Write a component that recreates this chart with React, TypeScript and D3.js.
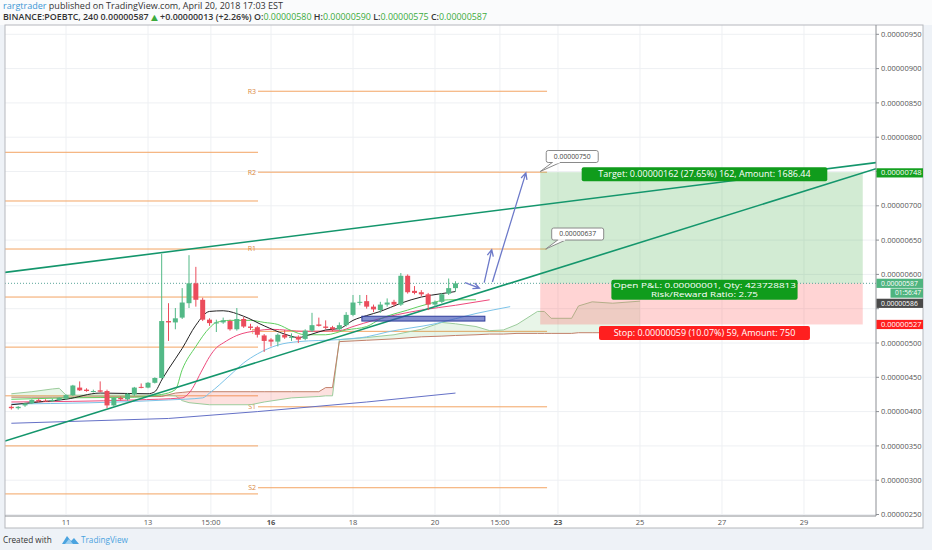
import React from 'react';
import * as d3 from 'd3';

const W = 932;
const H = 550;
const PLOT = { left: 5, right: 876, top: 25, bottom: 516 };
const PANEL_RIGHT = 923;
const PANEL_BOTTOM = 528;
const FONT = "'Open Sans', 'DejaVu Sans', sans-serif";

// 4h candles, bar 0 = Apr 11 00:00, prices in satoshi (1e-8 BTC)
const barIndex = d3.range(-8, 58);
const opens = [407, 405, 409, 412, 417, 416, 415, 417, 419, 424, 435, 432, 430, 431, 430, 409, 420, 418, 425, 436, 435, 442, 449, 532, 530, 537, 558, 587, 563, 534, 529, 530, 532, 520, 535, 524, 523, 511, 505, 502, 512, 508, 509, 506, 518, 527, 524, 523, 520, 526, 541, 559, 561, 553, 548, 556, 560, 556, 598, 576, 574, 571, 556, 560, 572, 580];
const highs = [409, 408, 413, 418, 419, 418, 419, 421, 425, 439, 444, 434, 432, 444, 432, 421, 422, 427, 436, 441, 443, 450, 630, 558, 551, 580, 628, 611, 566, 536, 534, 537, 534, 551, 538, 528, 525, 513, 507, 514, 519, 514, 511, 520, 544, 537, 533, 525, 530, 545, 570, 570, 570, 556, 560, 565, 563, 602, 600, 583, 577, 573, 562, 573, 594, 590];
const lows = [403, 403, 407, 411, 414, 414, 414, 416, 417, 423, 430, 429, 428, 428, 405, 407, 416, 416, 423, 434, 434, 441, 448, 503, 520, 535, 551, 553, 532, 525, 516, 528, 518, 518, 522, 519, 508, 487, 495, 495, 506, 503, 500, 504, 516, 524, 520, 517, 518, 524, 539, 555, 550, 545, 544, 553, 553, 554, 572, 571, 568, 548, 553, 558, 570, 575];
const closes = [405, 407, 412, 417, 416, 415, 417, 420, 424, 438, 431, 430, 430, 429, 409, 420, 418, 426, 435, 435, 442, 449, 532, 530, 536, 559, 587, 563, 534, 529, 530, 533, 520, 535, 524, 522, 512, 503, 502, 512, 508, 509, 505, 518, 526, 525, 522, 520, 526, 541, 559, 560, 553, 549, 556, 559, 556, 598, 574, 573, 571, 556, 560, 571, 580, 587];

// indicator lines as [bar, price]
const tenkan: [number, number][] = [[-8, 410], [-4, 414], [0, 418], [5, 427], [12, 426], [13, 429], [14, 446], [15, 462], [17, 492], [19, 526], [21, 546], [23, 547], [26, 539], [29, 525], [32, 513], [34, 508], [36, 513], [38, 519], [40, 521], [42, 533], [44, 540], [46, 546], [49, 558], [52, 567], [55, 572], [57, 575]];
const lips: [number, number][] = [[-8, 418], [0, 420], [10, 421], [14, 425], [16, 432], [17, 461], [19, 495], [21, 522], [22, 530], [24, 533], [27, 533], [29, 530], [31, 527], [33, 518], [35, 512], [38, 512], [41, 519], [44, 524], [46, 535], [50, 548], [53, 557], [56, 563], [60, 563]];
const teeth: [number, number][] = [[-8, 414], [10, 417], [17, 420], [18, 427], [20, 462], [21, 480], [22, 493], [23, 500], [25, 511], [28, 518], [30, 520], [35, 517], [40, 518], [42, 524], [45, 533], [52, 548], [57, 555], [62, 563]];
const jaw: [number, number][] = [[-8, 411], [15, 417], [20, 420], [21, 427], [24, 453], [26, 471], [28, 484], [31, 497], [34, 502], [40, 505], [44, 509], [47, 516], [54, 528], [60, 543], [65, 553]];
const longMa: [number, number][] = [[-8, 383], [15, 390], [28, 400], [44, 414], [57, 427]];

// ichimoku cloud
const cloudIdx = [-8, -5, -2, -1, 0, 14, 16, 17, 18, 21, 27, 29, 33, 37, 38, 39, 40, 44, 48, 52, 55, 57, 60, 62, 64, 66, 69, 70, 71, 74, 75, 77, 80, 84];
const spanA = [426, 429, 433, 434, 424, 424, 423, 416, 413, 410, 410, 414, 420, 422, 423, 423, 505, 508, 512, 520, 530, 528, 524, 518, 519, 527, 546, 546, 536, 536, 554, 560, 558, 561];
const spanB = [421, 421, 421, 421, 421, 422, 427, 428, 429, 429, 429, 429, 429, 429, 435, 435, 502, 504, 506, 509, 510, 511, 512, 513, 513, 514, 514, 514, 514, 514, 515, 515, 515, 515];

// pivot levels
const pivot1Range = [-9, 28.1];
const pivot1Levels = [778, 707, 637, 567, 494, 423, 350, 280];
const pivot2Range = [28.1, 70.4];
const pivot2Levels = [867, 749, 637, 517, 407, 289];
const pivot2Names = ['R3', 'R2', 'R1', 'P', 'S1', 'S2'];

// drawings
const trendLines = [[-8.93, 603, 118.54, 763], [-8.93, 357, 118.54, 754]];
const arrows = [[58.4, 588, 60.5, 580], [61.2, 588, 62.3, 636], [62.4, 589, 67.3, 748]];
const zone = { from: 43.3, to: 61.3, top: 539, bottom: 532 };
const callouts = [{ bar: 69.4, price: 750 }, { bar: 70.2, price: 637 }];

// long position tool
const posStart = 69.4;
const posEnd = 116.6;
const entry = 587;
const target = 749;
const stop = 527;
const targetText = 'Target: 0.00000162 (27.65%) 162, Amount: 1686.44';
const pnlText = ['Open P&L: 0.00000001, Qty: 423728813', 'Risk/Reward Ratio: 2.75'];
const stopText = 'Stop: 0.00000059 (10.07%) 59, Amount: 750';

const priceTicks = d3.range(250, 951, 50);
const timeTicks = [0, 12, 21.2, 30, 42, 54, 63.5, 72, 84, 96, 108];
const timeLabels = ['11', '13', '15:00', '16', '18', '20', '15:00', '23', '25', '27', '29'];
const boldLabels = ['16', '23'];

const UP = '#53b987';
const DOWN = '#eb4d5c';

export default function App() {
  const x = d3.scaleLinear().domain([-8.93, 118.54]).range([PLOT.left, PLOT.right]);
  const y = d3.scaleLinear().domain([250, 950]).range([514.5, 34.3]);
  const line = d3.line<[number, number]>().x(d => x(d[0])).y(d => y(d[1]));
  const smooth = d3.line<[number, number]>().x(d => x(d[0])).y(d => y(d[1])).curve(d3.curveMonotoneX);
  const fmt = (p: number) => (p / 1e8).toFixed(8);

  const cloudGreen = d3.area<number>()
    .x((_, k) => x(cloudIdx[k]))
    .y0((_, k) => y(spanB[k]))
    .y1((_, k) => y(Math.max(spanA[k], spanB[k])));
  const cloudRed = d3.area<number>()
    .x((_, k) => x(cloudIdx[k]))
    .y0((_, k) => y(spanA[k]))
    .y1((_, k) => y(Math.max(spanA[k], spanB[k])));

  const px1 = x(posStart);
  const px2 = x(posEnd);
  const pxm = (px1 + px2) / 2 + 3;
  const boxW = (t: string) => t.length * 4.95 + 8;

  const badges = [
    { yy: y(748), text: fmt(748), bg: '#14a020', left: 0, size: 7.5 },
    { yy: y(entry), text: fmt(entry), bg: '#4fb47f', left: 0, size: 6.8 },
    { yy: y(entry) + 9.8, text: '01:56:47', bg: '#4fb47f', left: 14, size: 6.6 },
    { yy: y(entry) + 20, text: fmt(586), bg: '#4a4a4a', left: 0, size: 6.8 },
    { yy: y(stop), text: fmt(stop), bg: '#ff1f1f', left: 0, size: 7.5 },
  ];
  // tick labels hidden under a badge
  const visibleTicks = priceTicks.filter(p => badges.every(b => Math.abs(b.yy - y(p)) > 7));

  const arrowHead = (a: number[]) => {
    const x1 = x(a[0]), y1 = y(a[1]), x2 = x(a[2]), y2 = y(a[3]);
    const ang = Math.atan2(y2 - y1, x2 - x1);
    const l = 7;
    const p1 = [x2 - l * Math.cos(ang - 0.45), y2 - l * Math.sin(ang - 0.45)];
    const p2 = [x2 - l * Math.cos(ang + 0.45), y2 - l * Math.sin(ang + 0.45)];
    return `M${x1},${y1}L${x2},${y2}M${p1[0]},${p1[1]}L${x2},${y2}L${p2[0]},${p2[1]}`;
  };

  return (
    <div style={{ position: 'fixed', left: 0, top: 0 }}>
      <svg width={W} height={H} style={{ display: 'block', fontFamily: FONT }}>
        <defs>
          <clipPath id="plotClip">
            <rect x={PLOT.left} y={PLOT.top} width={PLOT.right - PLOT.left} height={PLOT.bottom - PLOT.top} />
          </clipPath>
        </defs>
        <rect width={W} height={H} fill="#eef2f7" />
        <rect width={W} height={PLOT.top} fill="#fafbfc" />
        <rect x={PLOT.left} y={PLOT.top} width={PANEL_RIGHT - PLOT.left} height={PANEL_BOTTOM - PLOT.top} fill="#fff" />

        {/* header */}
        <text x={3} y={9} fontSize={8.3} fill="#333" textLength={280} lengthAdjust="spacingAndGlyphs">
          <tspan fill="#3d98d6">rargtrader</tspan>
          <tspan> published on TradingView.com, April 20, 2018 17:03 EST</tspan>
        </text>
        <text x={3} y={20} fontSize={8.3} fill="#333" fontWeight={600} textLength={484} lengthAdjust="spacingAndGlyphs">
          <tspan>BINANCE:POEBTC, 240 0.00000587 </tspan>
          <tspan fill="#3cab3c">▲</tspan>
          <tspan> +0.00000013 (+2.26%) O:</tspan>
          <tspan fill="#3cab3c" fontWeight={400}>0.00000580</tspan>
          <tspan> H:</tspan>
          <tspan fill="#3cab3c" fontWeight={400}>0.00000590</tspan>
          <tspan> L:</tspan>
          <tspan fill="#3cab3c" fontWeight={400}>0.00000575</tspan>
          <tspan> C:</tspan>
          <tspan fill="#3cab3c" fontWeight={400}>0.00000587</tspan>
        </text>

        <g clipPath="url(#plotClip)">
          {/* grid */}
          {priceTicks.map(p => (
            <line key={'h' + p} x1={PLOT.left} x2={PLOT.right} y1={y(p)} y2={y(p)} stroke="#eef0f3" />
          ))}
          {timeTicks.map((t, k) => (
            <line key={'v' + k} x1={x(t)} x2={x(t)} y1={PLOT.top} y2={PLOT.bottom} stroke="#eef0f3" />
          ))}

          {/* pivots */}
          {pivot1Levels.map(p => (
            <line key={'p1' + p} x1={x(pivot1Range[0])} x2={x(pivot1Range[1])} y1={y(p)} y2={y(p)} stroke="#f3a463" strokeWidth={1} />
          ))}
          {pivot2Levels.map((p, k) => (
            <g key={'p2' + p}>
              <line x1={x(pivot2Range[0])} x2={x(pivot2Range[1])} y1={y(p)} y2={y(p)} stroke="#f3a463" strokeWidth={1} />
              <text x={x(pivot2Range[0]) - 2} y={y(p)} dy="0.35em" textAnchor="end" fontSize={7} fill="#d9883e">
                {pivot2Names[k]}
              </text>
            </g>
          ))}

          {/* cloud */}
          <path d={cloudGreen(cloudIdx) || ''} fill="rgba(76,175,80,0.13)" />
          <path d={cloudRed(cloudIdx) || ''} fill="rgba(244,67,54,0.16)" />
          <path d={line(cloudIdx.map((c, k) => [c, spanA[k]] as [number, number])) || ''} fill="none" stroke="#9ccc9c" strokeWidth={1} />
          <path d={line(cloudIdx.map((c, k) => [c, spanB[k]] as [number, number])) || ''} fill="none" stroke="#c2806a" strokeWidth={1} />

          {/* position tool */}
          <rect x={px1} y={y(target)} width={px2 - px1} height={y(entry) - y(target)} fill="rgba(76,175,80,0.25)" />
          <rect x={px1} y={y(entry)} width={px2 - px1} height={y(stop) - y(entry)} fill="rgba(255,82,82,0.25)" />

          {/* indicators */}
          <path d={line(longMa) || ''} fill="none" stroke="#6571c7" strokeWidth={1} />
          <path d={smooth(jaw) || ''} fill="none" stroke="#7cc3e8" strokeWidth={1} />
          <path d={smooth(teeth) || ''} fill="none" stroke="#ee4a7c" strokeWidth={1} />
          <path d={smooth(lips) || ''} fill="none" stroke="#5fcf5f" strokeWidth={1} />
          <path d={smooth(tenkan) || ''} fill="none" stroke="#222" strokeWidth={1} />

          {/* current price */}
          <line x1={PLOT.left} x2={PLOT.right} y1={y(entry)} y2={y(entry)} stroke="#5aa59a" strokeDasharray="1,2" />

          {/* trend lines */}
          {trendLines.map((t, k) => (
            <line key={'t' + k} x1={x(t[0])} y1={y(t[1])} x2={x(t[2])} y2={y(t[3])} stroke="#14966c" strokeWidth={1.6} />
          ))}

          {/* zone */}
          <rect x={x(zone.from)} y={y(zone.top)} width={x(zone.to) - x(zone.from)} height={y(zone.bottom) - y(zone.top)} fill="rgba(63,81,181,0.65)" stroke="#2f3d99" strokeWidth={1} />

          {/* candles */}
          {barIndex.map((b, k) => {
            const o = opens[k], c = closes[k];
            const col = c >= o ? UP : DOWN;
            const top = y(Math.max(o, c));
            const h = Math.max(1, y(Math.min(o, c)) - top);
            return (
              <g key={'c' + b}>
                <line x1={x(b)} x2={x(b)} y1={y(highs[k])} y2={y(lows[k])} stroke={col} strokeWidth={1} />
                <rect x={x(b) - 2.5} y={top} width={5} height={h} fill={col} />
              </g>
            );
          })}

          {/* arrows */}
          {arrows.map((a, k) => (
            <path key={'a' + k} d={arrowHead(a)} fill="none" stroke="#6c79c9" strokeWidth={1.3} />
          ))}

          {/* callouts */}
          {callouts.map((c, k) => {
            const ax = x(c.bar), ay = y(c.price);
            const bx = ax + 6, by = ay - 21;
            return (
              <g key={'co' + k}>
                <path d={`M${bx + 6},${by + 12}L${ax},${ay}L${bx + 14},${by + 12}`} fill="#fff" stroke="#8a8a8a" strokeWidth={1} />
                <rect x={bx} y={by} width={52} height={12} rx={2} fill="#fff" stroke="#8a8a8a" strokeWidth={1} />
                <line x1={bx + 6.5} x2={bx + 13.5} y1={by + 12} y2={by + 12} stroke="#fff" strokeWidth={1.5} />
                <text x={bx + 26} y={by + 6} dy="0.35em" textAnchor="middle" fontSize={6.8} fill="#444">{fmt(c.price)}</text>
              </g>
            );
          })}

          {/* position labels */}
          <rect x={pxm - boxW(targetText) / 2} y={y(target) - 5} width={boxW(targetText)} height={14} rx={2} fill="#109c1c" />
          <text x={pxm} y={y(target) + 2} dy="0.35em" textAnchor="middle" fontSize={9} fill="#fff">{targetText}</text>
          <rect x={pxm - boxW(pnlText[0]) / 2} y={y(entry) - 3.5} width={boxW(pnlText[0])} height={20} rx={2} fill="#109c1c" />
          <text x={pxm} y={y(entry) + 1.5} dy="0.35em" textAnchor="middle" fontSize={7.7} fill="#fff"
            textLength={183} lengthAdjust="spacingAndGlyphs">{pnlText[0]}</text>
          <text x={pxm} y={y(entry) + 11.3} dy="0.35em" textAnchor="middle" fontSize={7.7} fill="#fff"
            textLength={107} lengthAdjust="spacingAndGlyphs">{pnlText[1]}</text>
          <rect x={pxm - boxW(stopText) / 2} y={y(stop) + 1.5} width={boxW(stopText)} height={14} rx={2} fill="#ff1f1f" />
          <text x={pxm} y={y(stop) + 8.5} dy="0.35em" textAnchor="middle" fontSize={9} fill="#fff">{stopText}</text>
        </g>

        {/* frame */}
        <rect x={PLOT.left} y={PLOT.top} width={PANEL_RIGHT - PLOT.left} height={PANEL_BOTTOM - PLOT.top} fill="none" stroke="#b5b8bd" />
        <line x1={PLOT.right} x2={PLOT.right} y1={PLOT.top} y2={PLOT.bottom} stroke="#8c8f94" />
        <line x1={PLOT.left} x2={PLOT.right} y1={PLOT.bottom} y2={PLOT.bottom} stroke="#8c8f94" />

        {/* price axis */}
        {priceTicks.map(p => (
          <line key={'pk' + p} x1={PLOT.right} x2={PLOT.right + 3} y1={y(p)} y2={y(p)} stroke="#8c8f94" />
        ))}
        {visibleTicks.map(p => (
          <text key={'pt' + p} x={PLOT.right + 5} y={y(p)} dy="0.35em" fontSize={7.5} fill="#555">{fmt(p)}</text>
        ))}
        {badges.map((b, k) => (
          <g key={'b' + k}>
            <rect x={PLOT.right + 0.5 + b.left} y={b.yy - 4.6} width={PANEL_RIGHT - PLOT.right - 0.5 - b.left} height={9.2} fill={b.bg} />
            <text x={PLOT.right + 5 + b.left} y={b.yy} dy="0.33em" fontSize={b.size} fill="#fff">{b.text}</text>
          </g>
        ))}

        {/* time axis */}
        {timeTicks.map((t, k) => (
          <text key={'tl' + k} x={x(t)} y={(PLOT.bottom + PANEL_BOTTOM) / 2} dy="0.35em" textAnchor="middle" fontSize={7.5}
            fill="#555" fontWeight={boldLabels.includes(timeLabels[k]) ? 700 : 400}>
            {timeLabels[k]}
          </text>
        ))}

        {/* footer */}
        <text x={3} y={540} dy="0.35em" fontSize={8.2} fill="#333">Created with</text>
        <path d="M62,544 L67,536 L71,541 L74,538 L79,544 Z" fill="#4aa3df" />
        <path d="M65,544 L69,539 L73,544 Z" fill="#9fd0f0" />
        <text x={81} y={540} dy="0.35em" fontSize={8.2} fill="#4aa3df">TradingView</text>
      </svg>
    </div>
  );
}
